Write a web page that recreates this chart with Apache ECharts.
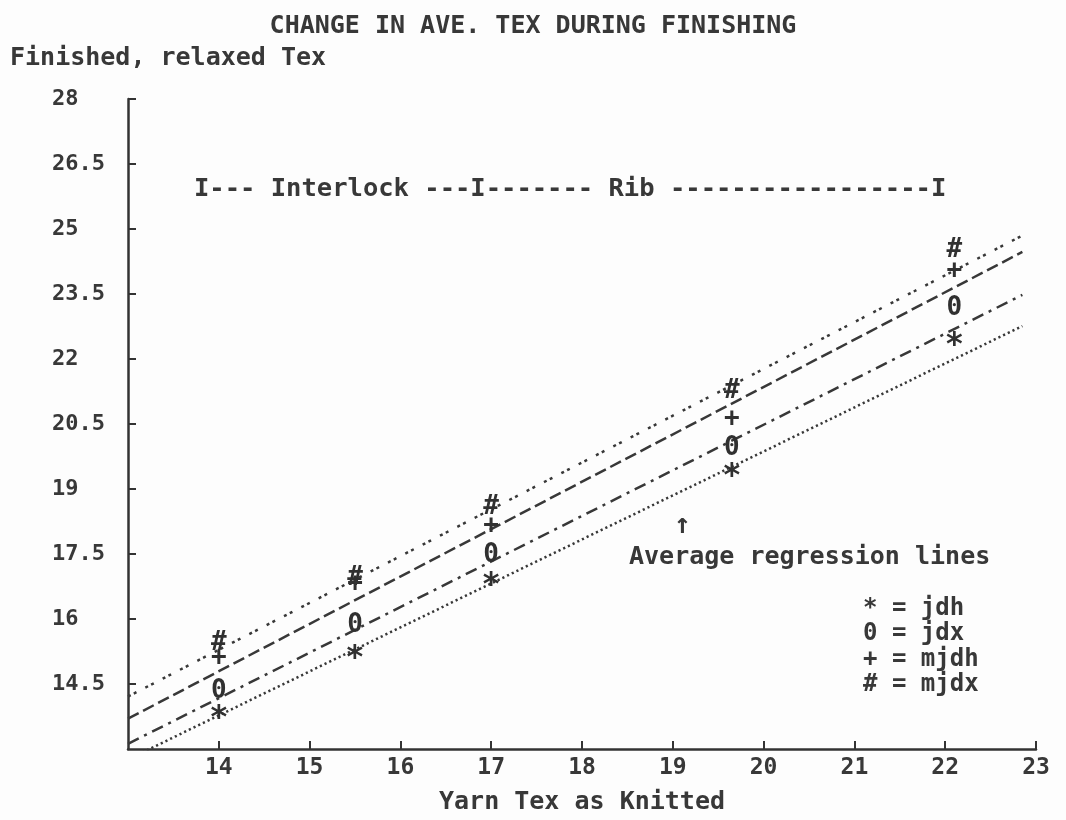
<!DOCTYPE html>
<html>
<head>
<meta charset="utf-8">
<script src="https://cdn.jsdelivr.net/npm/echarts@6/dist/echarts.min.js"></script>
<style>
html,body{margin:0;padding:0;background:#fdfdfd;}
#chart{width:1066px;height:820px;}
</style>
</head>
<body>
<div id="chart"></div>
<script>
// ---- data ----
const titleText = 'CHANGE IN AVE. TEX DURING FINISHING';
const yAxisName = 'Finished, relaxed Tex';
const xAxisName = 'Yarn Tex as Knitted';
const bandText = 'I--- Interlock ---I------- Rib -----------------I';
const noteText = 'Average regression lines';

const yTickLabels = ['13', '14.5', '16', '17.5', '19', '20.5', '22', '23.5', '25', '26.5', '28'];
const xTickLabels = ['13', '14', '15', '16', '17', '18', '19', '20', '21', '22', '23'];

// measurement positions (yarn tex as knitted)
const markerX = [14, 15.5, 17, 19.65, 22.1];
const jdh  = [13.88, 15.28, 16.95, 19.46, 22.50];
const jdx  = [14.34, 15.85, 17.48, 19.95, 23.18];
const mjdh = [15.10, 16.80, 18.13, 20.60, 24.02];
const mjdx = [15.43, 16.94, 18.59, 21.25, 24.51];

// average regression lines (end points)
const lineX = [13, 22.85];
const regUpperDotted = [14.21, 24.85];
const regLongDash   = [13.70, 24.47];
const regDashDot    = [13.12, 23.48];
const regDotted     = [12.76, 22.76];

const seriesNames = ['jdh', 'jdx', 'mjdh', 'mjdx'];
const glyphs = ['*', '0', '+', '#'];
const seriesValues = [jdh, jdx, mjdh, mjdx];

// ---- chart ----
const ink = '#383838';
const mono = "'DejaVu Sans Mono', 'Liberation Mono', monospace";

function pairs(xs, ys) { return xs.map((x, i) => [x, ys[i]]); }

const glyphOffset = {'*': [0, 8], '0': [0, 0], '+': [0, 0], '#': [0, 0]};

const scatterSeries = seriesNames.map((name, k) => ({
  name: name,
  type: 'scatter',
  data: pairs(markerX, seriesValues[k]),
  symbol: 'circle',
  symbolSize: 2,
  itemStyle: {color: 'rgba(0,0,0,0)'},
  z: 5,
  label: {
    show: true,
    position: 'inside',
    formatter: glyphs[k],
    fontFamily: mono,
    fontWeight: 'bold',
    fontSize: glyphs[k] === '*' ? 32 : 26,
    color: '#303030',
    opacity: 1,
    textBorderWidth: 0,
    textBorderColor: 'transparent',
    offset: glyphOffset[glyphs[k]]
  }
}));

function regLine(ys, dash) {
  return {
    type: 'line',
    data: pairs(lineX, ys),
    symbol: 'none',
    clip: true,
    silent: true,
    lineStyle: {color: ink, width: 2.5, type: dash, cap: 'butt'},
    z: 3
  };
}

const option = {
  backgroundColor: '#fdfdfd',
  animation: false,
  title: {
    text: titleText,
    left: 'center',
    top: 9,
    textStyle: {fontFamily: mono, fontSize: 25, fontWeight: 'bold', color: ink}
  },
  grid: {left: 128, right: 30, top: 99, bottom: 63, containLabel: false},
  xAxis: {
    type: 'value',
    min: 13, max: 23, interval: 1,
    name: xAxisName,
    nameLocation: 'middle',
    nameGap: 41,
    nameTextStyle: {fontFamily: mono, fontSize: 25, fontWeight: 'bold', color: ink},
    axisLine: {show: true, lineStyle: {color: '#333', width: 2.5}},
    axisTick: {show: true, inside: true, length: 8, lineStyle: {color: '#333', width: 2}},
    splitLine: {show: false},
    axisLabel: {
      showMinLabel: false,
      margin: 8,
      fontFamily: mono, fontSize: 23, fontWeight: 'bold', color: ink,
      formatter: (v) => xTickLabels[Math.round(v - 13)]
    }
  },
  yAxis: {
    type: 'value',
    min: 13, max: 28, interval: 1.5,
    axisLine: {show: true, lineStyle: {color: '#333', width: 2.5}},
    axisTick: {show: true, inside: true, length: 8, lineStyle: {color: '#333', width: 2}},
    splitLine: {show: false},
    axisLabel: {
      showMinLabel: false,
      align: 'left',
      margin: 76,
      padding: [8, 0, 0, 0],
      fontFamily: mono, fontSize: 22, fontWeight: 'bold', color: ink,
      formatter: (v) => yTickLabels[Math.round((v - 13) / 1.5)]
    }
  },
  legend: {
    data: seriesNames,
    orient: 'vertical',
    left: 853,
    top: 591,
    itemWidth: 0,
    itemHeight: 0,
    itemGap: 0,
    selectedMode: false,
    formatter: (name) => glyphs[seriesNames.indexOf(name)] + ' = ' + name,
    textStyle: {fontFamily: mono, fontSize: 24, fontWeight: 'bold', color: ink, lineHeight: 25.5, padding: 0}
  },
  graphic: [
    {type: 'text', left: 10, top: 46,
     style: {text: yAxisName, font: "bold 25px 'DejaVu Sans Mono'", fill: ink}},
    {type: 'text', left: 194, top: 176,
     style: {text: bandText, font: "bold 25.5px 'DejaVu Sans Mono'", fill: ink}},
    {type: 'text', left: 674, top: 512,
     style: {text: '\u2191', font: "bold 28px 'DejaVu Sans Mono'", fill: ink}},
    {type: 'text', left: 629, top: 545,
     style: {text: noteText, font: "bold 25px 'DejaVu Sans Mono'", fill: ink}}
  ],
  series: [
    regLine(regUpperDotted, [3, 3.5, 3, 10]),
    regLine(regLongDash, [12, 5]),
    regLine(regDashDot, [12, 6, 3, 6]),
    regLine(regDotted, [2.2, 3]),
    ...scatterSeries
  ]
};

const chart = echarts.init(document.getElementById('chart'), null, {renderer: 'canvas'});
chart.setOption(option);
</script>
</body>
</html>
